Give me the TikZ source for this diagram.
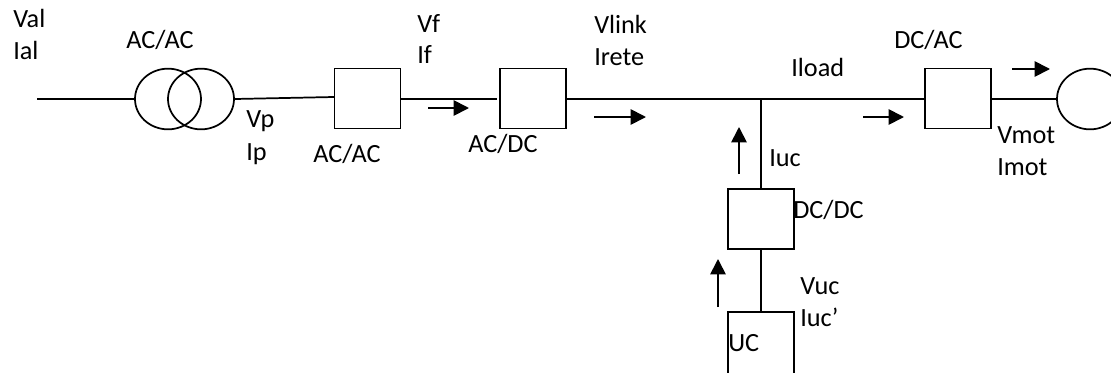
\documentclass[tikz,border=0pt]{standalone}
\usepackage{fontspec}
\setmainfont{Carlito}
\usetikzlibrary{arrows.meta,shapes.geometric}
\tikzset{
  wire/.style={line width=1.3pt,black},
  conv/.style={draw,line width=1.45pt,rectangle,inner sep=0pt,minimum width=49.5pt,minimum height=45pt},
  coil/.style={draw,line width=1.3pt,ellipse,inner sep=0pt,minimum width=49.5pt,minimum height=45.5pt},
  lbl/.style={anchor=base west,inner sep=0pt,font=\fontsize{19.7}{20}\selectfont},
  flow/.style={line width=1.3pt,-{Triangle[length=11.5pt,width=11.5pt]}}
}
\begin{document}
\begin{tikzpicture}[x=0.75pt,y=-0.75pt]
\useasboundingbox (0,0) rectangle (1111,372);
\clip (0,0) rectangle (1111,372);
% transformer and converters
\node[coil] (t1) at (168,99) {};
\node[coil] (t2) at (201,99) {};
\node[conv] (b1) at (367.5,98.5) {};
\node[conv] (b2) at (533,98.5) {};
\node[conv] (b3) at (958,98.5) {};
\node[conv] (b4) at (761,219) {};
\node[conv,minimum height=90pt] (uc) at (761,372) {};
\node[coil] (m) at (1090,99) {};
% free ends and junction
\coordinate (src) at (37,99);
\coordinate (j) at (761,99);
\coordinate (b1in) at (334,97);
\coordinate (b2in) at (497,99);
% connectors
\draw[wire] (src) -- (t1.west);
\draw[wire] (t2.east) -- (b1in);
\draw[wire] (b1.east |- b2in) -- (b2in);
\draw[wire] (b2.east |- j) -- (j) -- (b3.west |- j);
\draw[wire] (b3.east |- m) -- (m.west);
\draw[wire] (j) -- (b4.north);
\draw[wire] (b4.south) -- (uc.north);
% flow arrows
\coordinate (a1s) at (428,108); \coordinate (a1e) at (469,108);
\coordinate (a2s) at (594,117); \coordinate (a2e) at (646,117);
\coordinate (a3s) at (863,117); \coordinate (a3e) at (904,117);
\coordinate (a4s) at (1012,69); \coordinate (a4e) at (1050,69);
\coordinate (a5s) at (739,174); \coordinate (a5e) at (739,127);
\coordinate (a6s) at (718,307); \coordinate (a6e) at (718,259);
\draw[flow] (a1s) -- (a1e);
\draw[flow] (a2s) -- (a2e);
\draw[flow] (a3s) -- (a3e);
\draw[flow] (a4s) -- (a4e);
\draw[flow] (a5s) -- (a5e);
\draw[flow] (a6s) -- (a6e);
% labels
\node[lbl] (l1) at (13,27) {Val};
\node[lbl] (l2) at (13,59) {Ial};
\node[lbl] (l3) at (126,48) {AC/AC};
\node[lbl] (l4) at (246,127) {Vp};
\node[lbl] (l5) at (246,160) {Ip};
\node[lbl] (l6) at (313,162) {AC/AC};
\node[lbl] (l7) at (417,32) {Vf};
\node[lbl] (l8) at (417,63) {If};
\node[lbl] (l9) at (468,152) {AC/DC};
\node[lbl] (l10) at (594,33) {Vlink};
\node[lbl] (l11) at (594,65) {Irete};
\node[lbl] (l12) at (791,76) {Iload};
\node[lbl] (l13) at (769,166) {Iuc};
\node[lbl] (l14) at (894,48) {DC/AC};
\node[lbl] (l15) at (997,143) {Vmot};
\node[lbl] (l16) at (997,175) {Imot};
\node[lbl] (l17) at (793,218) {DC/DC};
\node[lbl] (l18) at (800,294) {Vuc};
\node[lbl] (l19) at (800,326) {Iuc’};
\node[lbl] (l20) at (728,351) {UC};
\end{tikzpicture}
\end{document}
